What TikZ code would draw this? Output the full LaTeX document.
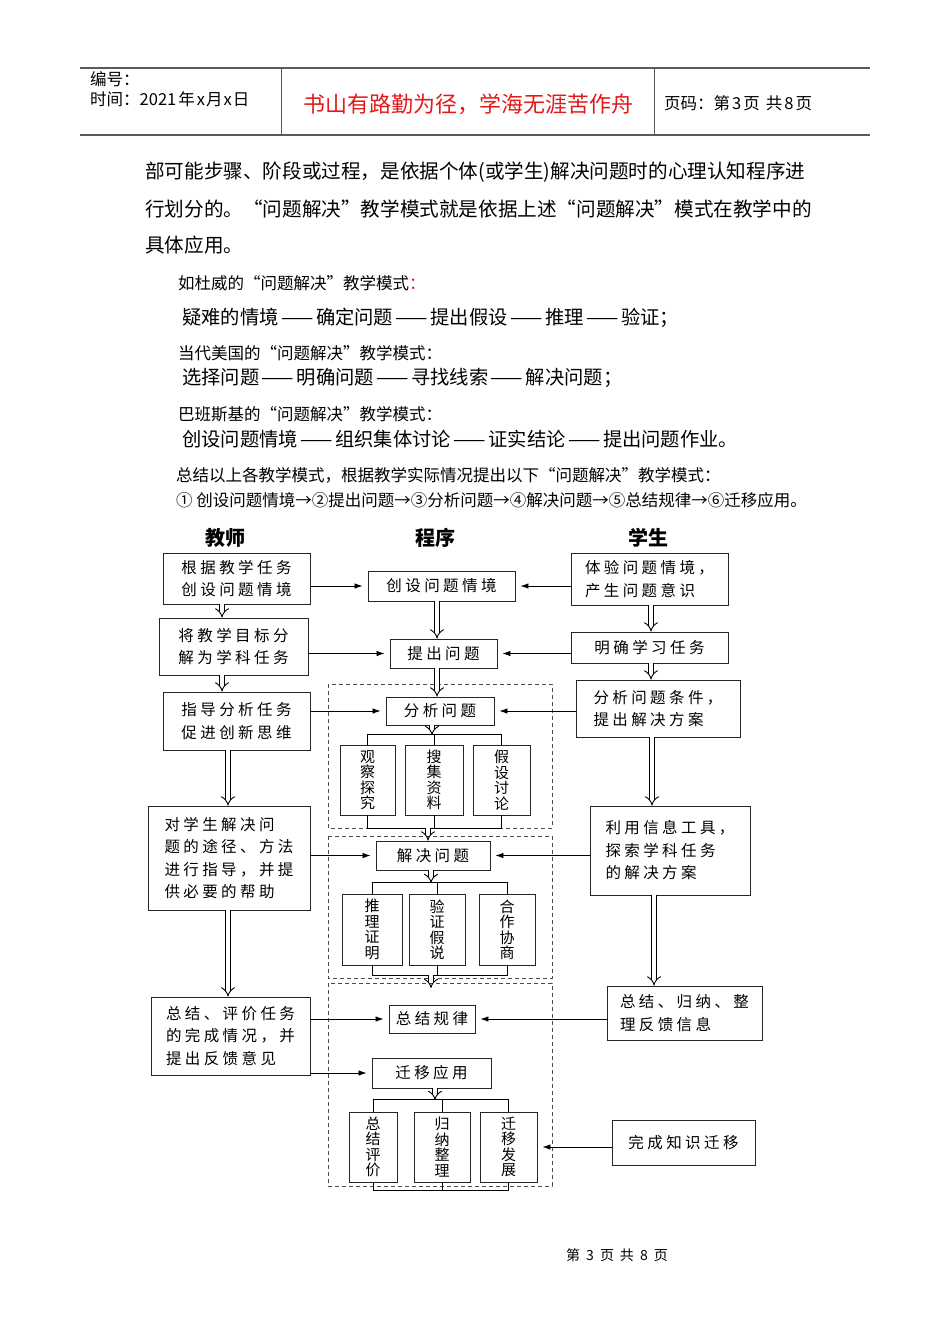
\documentclass[tikz,border=0pt]{standalone}
\usepackage{fontspec}
\setmainfont{Noto Sans CJK SC}
\newfontfamily\boxfont[LetterSpace=22]{Noto Sans CJK SC}
\usetikzlibrary{arrows.meta}
\definecolor{motto}{RGB}{225,25,25}
\definecolor{rule}{RGB}{90,90,90}
\newcommand\lngdash{\hspace{2.5pt}——\hspace{2.5pt}}

\tikzset{
	box/.style={draw=black!85, line width=0.9pt, inner sep=2pt, align=left,
		font=\boxfont\fontsize{15.5}{22.5}\selectfont},
	vbox/.style={draw=black!85, line width=0.9pt, inner sep=1pt, align=center,
		font=\fontsize{15}{15.5}\selectfont},
	sz/.style 2 args={minimum width=#1pt, minimum height=#2pt},
	arr/.style={-{Latex[length=8pt,width=5.5pt]}, line width=0.8pt, shorten >=5pt},
	dbl/.style={double, double distance=4pt, line width=0.9pt, -{Implies}},
	grp/.style={dash pattern=on 4pt off 3pt, line width=0.7pt, draw=black!70},
	bus/.style={line width=0.8pt},
	body/.style={anchor=west, inner sep=0pt, font=\fontsize{19.6}{19.6}\selectfont},
	mode/.style={anchor=west, inner sep=0pt, font=\fontsize{19.3}{19.3}\selectfont},
	small/.style={anchor=west, inner sep=0pt, font=\fontsize{16.5}{16.5}\selectfont},
	head/.style={inner sep=0pt, font=\bfseries\fontsize{20}{20}\selectfont},
}

\begin{document}
\begin{tikzpicture}[x=1pt, y=-1pt]
	\useasboundingbox (0,0) rectangle (950,1344);
	
	% page header
	\draw[rule, line width=1.2pt] (80,68) -- (870,68);
	\draw[rule, line width=2.5pt] (80,135) -- (870,135);
	\draw[rule, line width=1pt] (281,68) -- (281,135);
	\draw[rule, line width=1pt] (654,68) -- (654,135);
	\node [small] (hno) at (90,79) {编号：};
	\node [small] (hdate) at (90,99) {时间：2021\hspace{2pt}年\hspace{2pt}x\hspace{1pt}月\hspace{1pt}x\hspace{1pt}日};
	\node [inner sep=0pt, text=motto, font=\fontsize{22}{22}\selectfont] (motto) at (468,104) {书山有路勤为径，学海无涯苦作舟};
	\node [small] (hpage) at (664,103) {页码：第\hspace{2pt}3\hspace{2pt}页\hspace{6pt}共\hspace{2pt}8\hspace{2pt}页};
	
	% text above the chart
	\node [body] (l1) at (145,172) {部可能步骤、阶段或过程，是依据个体(或学生)解决问题时的心理认知程序进};
	\node [body] (l2) at (145,209) {行划分的。“问题解决”教学模式就是依据上述“问题解决”模式在教学中的};
	\node [body] (l3) at (145,245) {具体应用。};
	\node [small] (s1) at (178,283) {如杜威的“问题解决”教学模式\textcolor{motto}{：}};
	\node [mode] (m1) at (182,318) {疑难的情境\lngdash 确定问题\lngdash 提出假设\lngdash 推理\lngdash 验证；};
	\node [small] (s2) at (178,353) {当代美国的“问题解决”教学模式：};
	\node [mode] (m2) at (182,378) {选择问题\lngdash 明确问题\lngdash 寻找线索\lngdash 解决问题；};
	\node [small] (s3) at (178,414) {巴班斯基的“问题解决”教学模式：};
	\node [mode] (m3) at (182,439) {创设问题情境\lngdash 组织集体讨论\lngdash 证实结论\lngdash 提出问题作业。};
	\node [small] (s4) at (176,475) {总结以上各教学模式，根据教学实际情况提出以下“问题解决”教学模式：};
	\node [small] (s5) at (176,500) {① 创设问题情境→②提出问题→③分析问题→④解决问题→⑤总结规律→⑥迁移应用。};
	
	% column heads
	\node [head] (hT) at (225,538) {教师};
	\node [head] (hP) at (435,538) {程序};
	\node [head] (hS) at (648,538) {学生};
	
	% teacher
	\node [box, sz={147}{51}] (T1) at (236.5,578.5) {根据教学任务\\创设问题情境};
	\node [box, sz={149}{57}] (T2) at (233.5,646.5) {将教学目标分\\解为学科任务};
	\node [box, sz={147}{58}] (T3) at (236.5,721) {指导分析任务\\促进创新思维};
	\node [box, sz={162}{104}] (T4) at (229,858) {对学生解决问\\题的途径、方法\\进行指导，并提\\供必要的帮助};
	\node [box, sz={159}{78}] (T5) at (230.5,1036) {总结、评价任务\\的完成情况，并\\提出反馈意见};
	
	% procedure
	\draw[grp] (328,684) rectangle (552,828);
	\draw[grp] (328,836) rectangle (552,978);
	\draw[grp] (328,983) rectangle (552,1186);
	\node [box, sz={147}{30}] (P1) at (441.5,586) {创设问题情境};
	\node [box, sz={107}{29}] (P2) at (443.5,653.5) {提出问题};
	\node [box, sz={108}{28}] (P3) at (440,711) {分析问题};
	\node [vbox, sz={55}{70}] (A1) at (367.5,780) {观\\察\\探\\究};
	\node [vbox, sz={58}{70}] (A2) at (434,780) {搜\\集\\资\\料};
	\node [vbox, sz={57}{70}] (A3) at (501.5,780) {假\\设\\讨\\论};
	\node [box, sz={114}{29}] (P4) at (433,855.5) {解决问题};
	\node [vbox, sz={60}{71}] (B1) at (372,929.5) {推\\理\\证\\明};
	\node [vbox, sz={56}{71}] (B2) at (437,929.5) {验\\证\\假\\说};
	\node [vbox, sz={56}{71}] (B3) at (507,929.5) {合\\作\\协\\商};
	\node [box, sz={86}{28}] (P5) at (432,1019) {总结规律};
	\node [box, sz={119}{30}] (P6) at (431.5,1073) {迁移应用};
	\node [vbox, sz={48}{70}] (C1) at (373,1147) {总\\结\\评\\价};
	\node [vbox, sz={56}{70}] (C2) at (442,1147) {归\\纳\\整\\理};
	\node [vbox, sz={57}{70}] (C3) at (508.5,1147) {迁\\移\\发\\展};
	
	% student
	\node [box, sz={157}{52}] (S1) at (649.5,579) {体验问题情境，\\产生问题意识};
	\node [box, sz={157}{31}] (S2) at (649.5,647.5) {明确学习任务};
	\node [box, sz={164}{57}] (S3) at (658,708.5) {分析问题条件，\\提出解决方案};
	\node [box, sz={160}{89}] (S4) at (670,850.5) {利用信息工具，\\探索学科任务\\的解决方案};
	\node [box, sz={155}{54}] (S5) at (684.5,1013) {总结、归纳、整\\理反馈信息};
	\node [box, sz={143}{45}] (S6) at (683.5,1142.5) {完成知识迁移};
	
	% bus lines of the sub steps
	\draw[bus] (A1.north) -- ++(0,-10) -| (A3.north);
	\draw[bus] (A2.north) -- ++(0,-10);
	\draw[bus] (A1.south) -- ++(0,13) -| (A3.south);
	\draw[bus] (A2.south) -- ++(0,13);
	\draw[bus] (B1.north) -- ++(0,-11) -| (B3.north);
	\draw[bus] (B2.north) -- ++(0,-11);
	\draw[bus] (B1.south) -- ++(0,10) -| (B3.south);
	\draw[bus] (B2.south) -- ++(0,10);
	\draw[bus] (C1.north) -- ++(0,-12) -| (C3.north);
	\draw[bus] (C2.north) -- ++(0,-12);
	\draw[bus] (C1.south) -- ++(0,8) -| (C3.south);
	\draw[bus] (C2.south) -- ++(0,8);
	
	% hollow arrows
	\coordinate (t1) at (222,604);
	\coordinate (t2) at (222,675);
	\coordinate (t3) at (228,750);
	\coordinate (t4) at (228,910);
	\draw[dbl] (t1) -- (t1 |- T2.north);
	\draw[dbl] (t2) -- (t2 |- T3.north);
	\draw[dbl] (t3) -- (t3 |- T4.north);
	\draw[dbl] (t4) -- (t4 |- T5.north);
	\coordinate (p1) at (437,601);
	\coordinate (p2) at (437,668);
	\coordinate (p3) at (432,725);
	\coordinate (p4) at (428,828);
	\coordinate (p5) at (431,870);
	\coordinate (p6) at (431,975);
	\coordinate (p7) at (435,1088);
	\draw[dbl] (p1) -- (p1 |- P2.north);
	\draw[dbl] (p2) -- (p2 |- P3.north);
	\draw[dbl] (p3) -- ++(0,10);
	\draw[dbl] (p4) -- (p4 |- P4.north);
	\draw[dbl] (p5) -- ++(0,13);
	\draw[dbl] (p6) -- ++(0,13);
	\draw[dbl] (p7) -- ++(0,12);
	\coordinate (u1) at (651,605);
	\coordinate (u2) at (651,663);
	\coordinate (u3) at (652,737);
	\coordinate (u4) at (654,895);
	\draw[dbl] (u1) -- (u1 |- S2.north);
	\draw[dbl] (u2) -- (u2 |- S3.north);
	\draw[dbl] (u3) -- (u3 |- S4.north);
	\draw[dbl] (u4) -- (u4 |- S5.north);
	
	% arrows into the procedure
	\draw[arr] (P1.west -| T1.east) -- (P1.west);
	\draw[arr] (P2.west -| T2.east) -- (P2.west);
	\draw[arr] (P3.west -| T3.east) -- (P3.west);
	\draw[arr] (P4.west -| T4.east) -- (P4.west);
	\draw[arr] (P5.west -| T5.east) -- (P5.west);
	\draw[arr] (P6.west -| T5.east) -- (P6.west);
	\draw[arr] (P1.east -| S1.west) -- (P1.east);
	\draw[arr] (P2.east -| S2.west) -- (P2.east);
	\draw[arr] (P3.east -| S3.west) -- (P3.east);
	\draw[arr] (P4.east -| S4.west) -- (P4.east);
	\draw[arr] (P5.east -| S5.west) -- (P5.east);
	\draw[arr] (C3.east -| S6.west) -- (C3.east);
	
	% footer
	\node [inner sep=0pt, font=\fontsize{14}{14}\selectfont] (foot) at (617,1255) {第\hspace{6pt}3\hspace{6pt}页\hspace{6pt}共\hspace{6pt}8\hspace{6pt}页};
	
\end{tikzpicture}
\end{document}
